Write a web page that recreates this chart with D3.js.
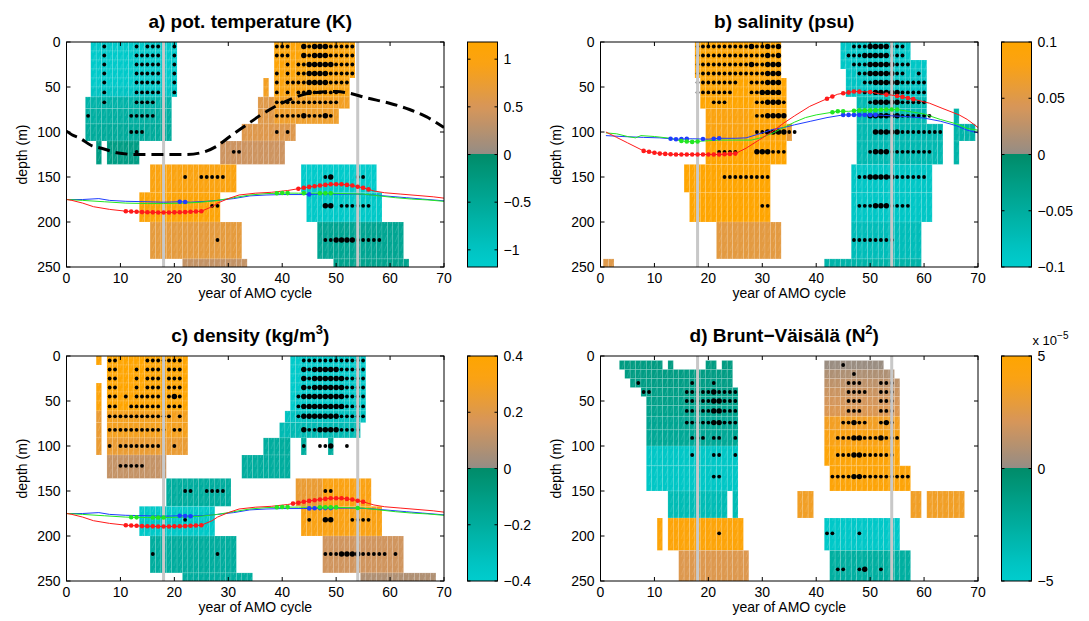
<!DOCTYPE html>
<html><head><meta charset="utf-8">
<script src="https://cdn.jsdelivr.net/npm/d3@7"></script>
<style>body{margin:0;background:#fff} svg{display:block} text{font-family:"Liberation Sans",Arial,Helvetica,sans-serif;fill:#000}</style>
</head><body><svg id="chart" width="1089" height="621"></svg>
<script>
// ---------------- DATA ----------------
const depthLevels = [5,15,25,35,45,56,67,82,100,122,150,182,220,265];
const depthBounds = [0,10,20,30,40,50,61,74,91,110,136,167,200,241,290];
const n2Levels = [10,20,30,40,50,61,74,91,110,134,165,197,237];
const n2Bounds = [5,15,25,35,45,55,67,82,100,122,150,180,216,260];
const xTicks = [0,10,20,30,40,50,60,70];
const yTicks = [0,50,100,150,200,250];
const phaseYears = [18,54];

// cells: [levelFrom, levelTo, firstYear, lastYear, value]
const tempCells = [
  [0,4,5,20,-1.12],[5,5,5,20,-1.0],[6,6,4,19,-0.7],[7,7,4,19,-0.62],[8,8,4,19,-0.55],
  [9,9,6,6,-0.3],[9,9,8,13,-0.3],
  [0,3,39,53,1.08],[4,5,37,37,0.85],[4,5,39,52,1.0],[6,6,36,38,0.6],[6,6,39,52,0.85],
  [7,7,36,38,0.6],[7,7,39,50,0.8],[8,8,33,42,0.58],[9,9,29,40,0.42],
  [10,10,16,31,1.0],[11,11,14,28,1.1],[12,12,16,32,0.68],[13,13,22,33,0.35],
  [10,10,44,57,-1.15],[11,11,45,58,-1.1],[12,12,47,62,-0.45],[13,13,50,63,-0.4]
];
const saltCells = [
  [0,3,18,33,0.1],[4,6,19,34,0.1],[7,8,20,27,0.085],[7,8,28,34,0.095],[8,8,35,35,0.06],
  [9,9,20,34,0.1],[10,10,16,31,0.1],[11,11,17,31,0.1],[12,12,22,33,0.055],[13,13,1,2,0.05],
  [0,1,45,57,-0.092],[2,2,45,60,-0.09],[3,5,46,60,-0.085],[6,7,48,60,-0.07],
  [8,9,48,63,-0.068],[10,11,47,61,-0.09],[12,12,47,59,-0.075],[13,13,42,59,-0.06],
  [7,9,66,66,-0.06],[8,8,67,69,-0.06]
];
const densCells = [
  [0,0,6,6,0.38],[3,5,6,6,0.36],[6,8,6,6,0.25],
  [0,5,8,22,0.4],[6,7,8,22,0.3],[8,8,8,22,0.25],[9,9,8,18,0.12],
  [10,10,19,30,-0.2],[11,11,14,27,-0.37],[12,12,16,31,-0.2],[13,13,22,34,-0.2],
  [0,5,42,55,-0.38],[6,6,41,55,-0.33],[7,7,40,54,-0.28],
  [8,8,37,41,-0.2],[8,8,44,44,-0.2],[8,8,49,49,-0.2],[9,9,33,41,-0.2],
  [10,10,43,47,0.25],[10,10,48,56,0.33],[11,11,44,58,0.32],[12,12,48,62,0.15],[13,13,55,68,0.07]
];
const n2Cells = [
  [0,0,4,11,-1.1e-5],[0,0,13,13,-1.1e-5],[0,0,20,21,-1.1e-5],[0,0,23,24,-1.1e-5],
  [1,1,5,24,-1.2e-5],[2,2,6,24,-1.3e-5],[3,3,8,25,-1.4e-5],[4,4,9,25,-1.5e-5],
  [5,5,9,25,-1.7e-5],[6,6,9,25,-1.9e-5],[7,7,9,25,-2.1e-5],[8,9,9,25,-4.5e-5],
  [10,10,13,23,-3.6e-5],[10,10,25,25,-3.6e-5],
  [11,11,11,11,4.6e-5],[11,11,13,26,4.6e-5],[12,12,15,27,2.4e-5],
  [0,0,42,52,0.2e-5],[1,1,42,54,0.8e-5],[2,2,42,55,1.3e-5],[3,3,42,55,1.7e-5],
  [4,4,42,55,2.0e-5],[5,5,42,55,2.3e-5],[6,6,42,55,3.6e-5],[7,7,42,55,4.0e-5],
  [8,8,42,55,4.6e-5],[9,9,43,57,4.6e-5],
  [10,10,37,39,3.5e-5],[10,10,58,59,3.5e-5],[10,10,61,67,3.5e-5],
  [11,11,42,55,-4.6e-5],[12,12,43,57,-2.6e-5]
];

// significance dots per level (years), and larger dots
const tempDots = ["7,13,15-17,20,39-41,44-53","7,13-17,20,39-41,44-53","7,13-17,20,41,43-53",
  "7,13-17,20,39,41,43-53","7,13-17,20,39,41-52","7,13-17,20,39,41,43-50","7,13-16,39-50",
  "4,12-16,39-49","12-14,39,41","13,31,32","22,25-29,48,49,54,55","27,28,48,49,51-56","28,48-58"];
const tempBig = ["44,46-48","44,46-48","45-49","45-48","45-48","45","","44,48","","","49","48,49","50-53"];
const saltDots = ["18-33,47-56","18-33,46-56","18-33,47-57","18-33,48-56,59","18-25,28-33,49-60",
  "18-24,28-33,49-60","21-23,29-34,50-60","29-34,50-61","29-36,51-63","22-25,29-34,50-61",
  "23-31,48-60","30,31,48-57","47-54"];
const saltBig = ["28,31,33,50-53","31,33,49-53","28,31-33,50-54","31-33,50-54","31-33,51-55",
  "30-33,51-55","31-33,51-55","31-34,50-55","31-34,51-55","29-31,51-53","50-54","51-53",""];
const densDots = ["8,9,15-21,44-55","8,9,13,15-17,19-21,44-55","8,9,13,15-17,19-21,44-55",
  "8,9,13,15-17,19-21,44-55","8,9,11,13-17,19-21,43-55","8,9,12-17,19-21,43-55","8-19,21,43-55",
  "8-18,20,21,44-54","8,10-17,20,44,47-49,52","10-14","22,23,26-29,48,49","22,45,48,49,53-56","16,28,48-59,61"];
const densBig = ["","44,46-50","44,46-51","44,46-51","20,44-51","44-51","44-50","44,47-50","49","","","48,49","51-54"];
const n2Dots = ["45","47","7,17,21,46-48,52-54","8,9,16-25,46-49,52-54","16-25,46-48,52-54",
  "16-25,46-48,52-54","16-25,45-49,52-54","17-19,21,22,25,44-55","17,21,22,25,44-54",
  "21,22,43-57","","22,42,43,48","44,45,48,49,52"];
const n2Big = ["","","","21","21,22","21,22","21,22,47,53","47,48,52","47,48","47,48","","","49"];

// mixed-layer / thermocline curves: [year, depth]
const redTC = [[0,175],[1,176],[3,179],[5,183],[8,186],[11,188],[14,189],[18,189.5],[22,189],[25,188],
  [27,183],[28,179],[30,174],[32,170],[35,168],[38,167],[41,165],[43,163],[45,161],[47,159.5],[49,158],
  [51,158],[53,159.5],[55,162],[57,165.5],[59,167.5],[62,169],[65,170.5],[68,172],[70,173.5]];
const greenTC = [[0,175],[3,176],[7,177.5],[11,179],[15,179.5],[18,179.5],[22,179],[25,178],[28,176],
  [31,173],[34,170],[37,168.5],[40,167.8],[43,168],[46,168],[49,168],[52,168.5],[55,169],[58,171],
  [61,173],[64,174.5],[67,175.5],[70,177]];
const blueTC = [[0,175],[3,175],[6,174],[8,176],[11,177],[15,177.5],[18,178],[21,177.5],[23,178],
  [26,177],[28,176],[31,174],[34,171],[37,170],[40,169.5],[44,169.5],[47,169],[50,169],[54,169],
  [57,170],[60,171.5],[63,173],[66,174.5],[70,176.5]];
const redS = [[1,100],[3,106],[5,112],[8,121],[11,124],[14,125],[18,125],[22,125],[25,124],[27,118],
  [29.5,108.5],[32,99],[34,90],[36,82],[38.8,71.5],[42,63],[44,58],[47,55],[50,55.5],[52,58],[54,59],
  [56,61],[58,63.5],[61,68],[63.5,74],[66.5,81],[68,86],[70,95]];
const greenS = [[1,101],[3,102],[5,105],[6.5,106.5],[7.5,104],[10,105],[13,107],[15,110],[17,111],
  [19,110],[22,109],[25,109],[28,109],[30,106],[32,101],[34,95],[36,89],[38,84],[40,81],[42,79],
  [44,77],[46,77],[48,76],[50,76],[53,75],[55,75],[57,77],[60,80],[63,86],[66,91],[68,96],[70,98]];
const blueS = [[1,104],[4,105],[8,106],[11,106.5],[14,108],[17,107.5],[20,108],[22,107],[25,107],
  [27,106.5],[30,101],[32,97],[34,95],[36,92],[39,88],[42,84],[45,81],[48,81],[51,81],[54,82],
  [57,83],[60,84.5],[63,88],[66,93],[68,98],[70,101]];
const mixedLayer = [[0,99],[1,103],[2.5,107],[4.6,115],[6.5,118],[9.3,123],[13,125],[17,125],[22,125],
  [25,123],[27.8,116],[30.3,105],[33.4,92],[35.8,82],[38.9,71],[41.4,64],[43.9,58.5],[46.3,56],[50,55],
  [52.5,57],[55.6,62],[59.9,68],[63.6,75],[66.7,83],[70,95]];

// significant years marked on the curves
const tempMarks = {red:"11-25,43-56", green:"39-41,44,47-49", blue:"21,22,45"};
const saltMarks = {red:"8-25,42,43,45-48,50,53,55-58", green:"15-18,43-45,47-55", blue:"13-16,19,21,22,45-51"};
const densMarks = {red:"11-25,42-55", green:"12,13,16-18,39-41,47-50,54", blue:"21-23,45-49"};

const tempTicks = [1,0.5,0,-0.5,-1];
const saltTicks = [0.1,0.05,0,-0.05,-0.1];
const densTicks = [0.4,0.2,0,-0.2,-0.4];
const n2Ticks = [5e-5,0,-5e-5];

// ---------------- DRAWING ----------------
function years(s){ const out=[]; if(!s) return out;
  s.split(',').forEach(p=>{ const q=p.split('-').map(Number); if(q.length===1) out.push(q[0]); else for(let k=q[0];k<=q[1];k++) out.push(k); });
  return out; }

const svg = d3.select('#chart');
const defs = svg.append('defs');
const plotW = 377.5, plotH = 225, cbW = 30;

// faint diagonal texture seen in the original cells
const pat = defs.append('pattern').attr('id','hatch').attr('patternUnits','userSpaceOnUse')
  .attr('width',5.4).attr('height',9);
pat.append('line').attr('x1',1).attr('y1',8).attr('x2',3.5).attr('y2',1)
  .attr('stroke','#fff').attr('stroke-opacity',0.22).attr('stroke-width',0.6);

const posStops = [[0,'#948c85'],[0.42,'#d79659'],[0.8,'#faa214'],[1,'#ffa500']];
const negStops = [[0,'#008c69'],[0.42,'#00a896'],[0.85,'#00c4c3'],[1,'#00cdcd']];
function colorFor(v, vmax){
  const t = Math.min(1, Math.abs(v)/vmax);
  const st = v >= 0 ? posStops : negStops;
  return d3.scaleLinear().domain(st.map(s=>s[0])).range(st.map(s=>s[1])).interpolate(d3.interpolateRgb)(t);
}
const fmt = (d, k) => { const v = +(d*k).toFixed(6); return v===0 ? '0' : (v<0 ? '\u2212' + Math.abs(v) : String(v)); };

const panels = [
  {id:'a', left:66.5, top:42, cbLeft:467.5, title:[{t:'a) pot. temperature (K)'}], cells:tempCells, dots:tempDots, big:tempBig,
   levels:depthLevels, bounds:depthBounds, vmax:1.18, ticks:tempTicks, k:1,
   curves:[[blueTC,'#1e3cff',tempMarks.blue],[greenTC,'#22e622',tempMarks.green],[redTC,'#ff1a1a',tempMarks.red]], mld:true},
  {id:'b', left:600.5, top:42, cbLeft:1001.5, title:[{t:'b) salinity (psu)'}], cells:saltCells, dots:saltDots, big:saltBig,
   levels:depthLevels, bounds:depthBounds, vmax:0.1, ticks:saltTicks, k:1,
   curves:[[blueS,'#1e3cff',saltMarks.blue],[greenS,'#22e622',saltMarks.green],[redS,'#ff1a1a',saltMarks.red]]},
  {id:'c', left:66.5, top:356, cbLeft:467.5, title:[{t:'c) density (kg/m'},{t:'3',sup:true},{t:')'}], cells:densCells, dots:densDots, big:densBig,
   levels:depthLevels, bounds:depthBounds, vmax:0.4, ticks:densTicks, k:1,
   curves:[[blueTC,'#1e3cff',densMarks.blue],[greenTC,'#22e622',densMarks.green],[redTC,'#ff1a1a',densMarks.red]]},
  {id:'d', left:600.5, top:356, cbLeft:1001.5, title:[{t:'d) Brunt\u2212V\u00e4is\u00e4l\u00e4 (N'},{t:'2',sup:true},{t:')'}], cells:n2Cells, dots:n2Dots, big:n2Big,
   levels:n2Levels, bounds:n2Bounds, vmax:5e-5, ticks:n2Ticks, k:1e5, curves:[], expo:true}
];

panels.forEach(p => {
  const x = d3.scaleLinear().domain([0,70]).range([p.left, p.left+plotW]);
  const y = d3.scaleLinear().domain([0,250]).range([p.top, p.top+plotH]);
  const g = svg.append('g');
  defs.append('clipPath').attr('id','clip-'+p.id).append('rect')
    .attr('x',p.left).attr('y',p.top).attr('width',plotW).attr('height',plotH);
  const inner = g.append('g').attr('clip-path','url(#clip-'+p.id+')');

  // cells
  const cellData = [];
  p.cells.forEach(([l0,l1,y0,y1,v]) => { for(let l=l0;l<=l1;l++) for(let yr=y0;yr<=y1;yr++) cellData.push({l,yr,v}); });
  const cellG = inner.append('g');
  cellG.selectAll('rect.cell').data(cellData).join('rect').attr('class','cell')
    .attr('x', d => x(d.yr-0.5)).attr('width', d => x(d.yr+0.5)-x(d.yr-0.5))
    .attr('y', d => y(p.bounds[d.l])).attr('height', d => y(p.bounds[d.l+1])-y(p.bounds[d.l]))
    .attr('fill', d => colorFor(d.v, p.vmax))
    .attr('stroke','rgba(255,255,255,0.16)').attr('stroke-width',0.7);
  cellG.selectAll('rect.tex').data(cellData).join('rect').attr('class','tex')
    .attr('x', d => x(d.yr-0.5)).attr('width', d => x(d.yr+0.5)-x(d.yr-0.5))
    .attr('y', d => y(p.bounds[d.l])).attr('height', d => y(p.bounds[d.l+1])-y(p.bounds[d.l]))
    .attr('fill','url(#hatch)');

  // significance dots
  const dotData = [];
  p.dots.forEach((s,l) => { const bigs = new Set(years(p.big[l])); years(s).forEach(yr => dotData.push({yr, dep:p.levels[l], big:bigs.has(yr)})); });
  inner.append('g').selectAll('circle').data(dotData).join('circle')
    .attr('cx', d => x(d.yr)).attr('cy', d => y(d.dep)).attr('r', d => d.big ? 2.7 : 1.9).attr('fill','#000');

  // phase lines
  inner.append('g').selectAll('line').data(phaseYears).join('line')
    .attr('x1', d => x(d)).attr('x2', d => x(d)).attr('y1', p.top).attr('y2', p.top+plotH)
    .attr('stroke','#c8c8c8').attr('stroke-width',3);

  // curves
  const line = d3.line().x(d => x(d[0])).y(d => y(d[1]));
  p.curves.forEach(([pts,col,marks]) => {
    inner.append('path').datum(pts).attr('d', line).attr('fill','none').attr('stroke',col).attr('stroke-width',1);
  });
  p.curves.forEach(([pts,col,marks]) => {
    const xs = pts.map(d=>d[0]), ys = pts.map(d=>d[1]);
    const onCurve = yr => { const i = Math.max(1, d3.bisectLeft(xs, yr)); const a=i-1,b=Math.min(i,xs.length-1);
      if (a===b) return ys[a]; return ys[a] + (ys[b]-ys[a])*(yr-xs[a])/(xs[b]-xs[a]); };
    inner.append('g').selectAll('circle').data(years(marks)).join('circle')
      .attr('cx', d => x(d)).attr('cy', d => y(onCurve(d))).attr('r',2.3).attr('fill',col);
  });
  if (p.mld) {
    inner.append('path').datum(mixedLayer).attr('d', d3.line().curve(d3.curveMonotoneX).x(d=>x(d[0])).y(d=>y(d[1])))
      .attr('fill','none').attr('stroke','#000').attr('stroke-width',3).attr('stroke-dasharray','12,6');
  }

  // axes box & ticks
  g.append('rect').attr('x',p.left).attr('y',p.top).attr('width',plotW).attr('height',plotH)
    .attr('fill','none').attr('stroke','#000').attr('stroke-width',1);
  const tk = 4;
  xTicks.forEach(t => {
    g.append('line').attr('x1',x(t)).attr('x2',x(t)).attr('y1',p.top+plotH).attr('y2',p.top+plotH-tk).attr('stroke','#000');
    g.append('line').attr('x1',x(t)).attr('x2',x(t)).attr('y1',p.top).attr('y2',p.top+tk).attr('stroke','#000');
    g.append('text').attr('x',x(t)).attr('y',p.top+plotH+16).attr('text-anchor','middle').attr('font-size',14).text(t);
  });
  yTicks.forEach(t => {
    g.append('line').attr('x1',p.left).attr('x2',p.left+tk).attr('y1',y(t)).attr('y2',y(t)).attr('stroke','#000');
    g.append('line').attr('x1',p.left+plotW).attr('x2',p.left+plotW-tk).attr('y1',y(t)).attr('y2',y(t)).attr('stroke','#000');
    g.append('text').attr('x',p.left-6).attr('y',y(t)+5).attr('text-anchor','end').attr('font-size',14).text(t);
  });
  g.append('text').attr('x',p.left+plotW/2).attr('y',p.top+plotH+31).attr('text-anchor','middle').attr('font-size',14).text('year of AMO cycle');
  g.append('text').attr('transform',`translate(${p.left-40},${p.top+plotH/2}) rotate(-90)`).attr('text-anchor','middle').attr('font-size',14).text('depth (m)');

  // title
  const tt = g.append('text').attr('x',p.left+plotW/2-5).attr('y',p.top-14).attr('text-anchor','middle')
    .attr('font-size',19).attr('font-weight','bold');
  p.title.forEach(part => {
    const ts = tt.append('tspan').text(part.t);
    if (part.sup) ts.attr('font-size',13).attr('dy',-8);
    else if (tt.selectAll('tspan').size()>1) ts.attr('dy',8);
  });

  // colorbar
  const gid = 'grad-'+p.id;
  const grad = defs.append('linearGradient').attr('id',gid).attr('x1',0).attr('x2',0).attr('y1',0).attr('y2',1);
  const N = 30;
  for (let i=0;i<=N;i++){ const v = p.vmax*(1-i/N); grad.append('stop').attr('offset',(0.5*i/N*100)+'%').attr('stop-color',colorFor(v,p.vmax)); }
  for (let i=0;i<=N;i++){ const v = -p.vmax*(i/N); grad.append('stop').attr('offset',(50+0.5*i/N*100)+'%').attr('stop-color',colorFor(i===0?-1e-12:v,p.vmax)); }
  const cy = d3.scaleLinear().domain([p.vmax,-p.vmax]).range([p.top, p.top+plotH]);
  g.append('rect').attr('x',p.cbLeft).attr('y',p.top).attr('width',cbW).attr('height',plotH).attr('fill','url(#'+gid+')')
    .attr('stroke','#000').attr('stroke-width',1);
  p.ticks.forEach(t => {
    g.append('line').attr('x1',p.cbLeft).attr('x2',p.cbLeft+3).attr('y1',cy(t)).attr('y2',cy(t)).attr('stroke','#000');
    g.append('line').attr('x1',p.cbLeft+cbW).attr('x2',p.cbLeft+cbW-3).attr('y1',cy(t)).attr('y2',cy(t)).attr('stroke','#000');
    g.append('text').attr('x',p.cbLeft+cbW+6).attr('y',cy(t)+5).attr('font-size',14).text(fmt(t,p.k));
  });
  if (p.expo) {
    const ex = g.append('text').attr('x',p.cbLeft+cbW+1).attr('y',p.top-11).attr('font-size',13);
    ex.append('tspan').text('x 10');
    ex.append('tspan').attr('font-size',10).attr('dy',-6).text('\u22125');
  }
});
</script></body></html>
